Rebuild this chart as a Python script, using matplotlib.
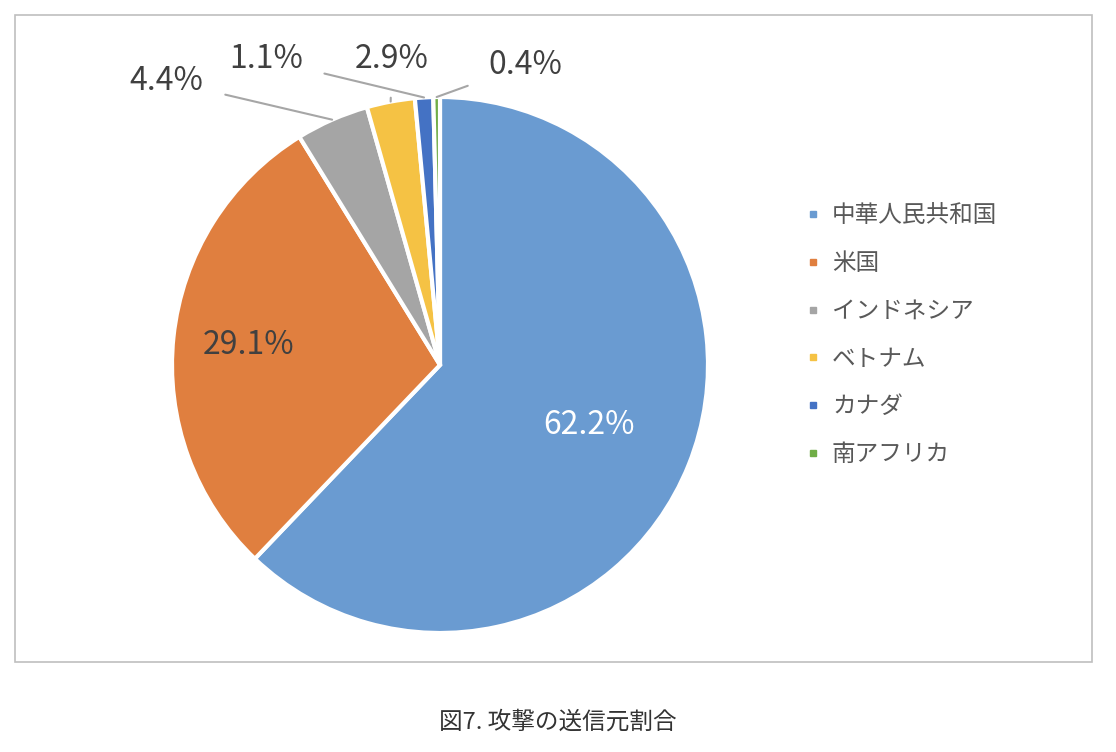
import numpy as np
import matplotlib.pyplot as plt
from matplotlib.patches import Rectangle
from matplotlib.lines import Line2D

plt.rcParams['font.family'] = ['Noto Sans CJK JP', 'DejaVu Sans']

countries = ['中華人民共和国', '米国', 'インドネシア', 'ベトナム', 'カナダ', '南アフリカ']
shares = [62.2, 29.1, 4.4, 2.9, 1.1, 0.4]
colors = ['#6a9bd1', '#e07f3f', '#a5a5a5', '#f5c244', '#4472c4', '#70ad47']
caption = '図7. 攻撃の送信元割合'

W, H = 1116, 752
fig = plt.figure(figsize=(W / 100, H / 100), dpi=100)

# chart frame
fig.patches.append(Rectangle((15 / W, 1 - 662 / H), 1077 / W, 647 / H,
                             transform=fig.transFigure, fill=False,
                             edgecolor='#bfbfbf', linewidth=1.2))

cx, cy, r = 440, 365, 268
ax = fig.add_axes([(cx - r) / W, (H - cy - r) / H, 2 * r / W, 2 * r / H])
wedges, _ = ax.pie(shares, colors=colors, startangle=90, counterclock=False,
                   radius=1, wedgeprops=dict(edgecolor='white', linewidth=3))
ax.set_xlim(-1, 1)
ax.set_ylim(-1, 1)
ax.set_aspect('equal')
ax.axis('off')

# inside labels
inside = {0: ('white', 0.6), 1: ('#404040', 0.72)}
for i, (col, dist) in inside.items():
    w = wedges[i]
    ang = np.deg2rad((w.theta1 + w.theta2) / 2)
    ax.text(dist * np.cos(ang), dist * np.sin(ang), f'{shares[i]:.1f}%',
            ha='center', va='center', fontsize=23, color=col)

# outside labels with leader lines
outside = {2: (-1.02, 1.06), 3: (-0.18, 1.14), 4: (-0.65, 1.14), 5: (0.32, 1.12)}
for i, (tx, ty) in outside.items():
    w = wedges[i]
    ang = np.deg2rad((w.theta1 + w.theta2) / 2)
    ax.annotate(f'{shares[i]:.1f}%', xy=(1.0 * np.cos(ang), 1.0 * np.sin(ang)),
                xytext=(tx, ty), ha='center', va='center', fontsize=23,
                color='#404040', annotation_clip=False,
                arrowprops=dict(arrowstyle='-', color='#a6a6a6', lw=1.5,
                                shrinkA=14, shrinkB=0))

handles = [Line2D([], [], marker='s', linestyle='', markersize=5,
                  markerfacecolor=c, markeredgecolor=c) for c in colors]
fig.legend(handles, countries, loc='upper left',
           bbox_to_anchor=(780 / W, 1 - 183 / H), frameon=False,
           fontsize=17, labelcolor='#595959', labelspacing=1.05,
           handletextpad=0.3, handlelength=1.0)

fig.text(0.5, 1 - 722 / H, caption, ha='center', va='center', fontsize=17,
         color='#333333')

fig.savefig('out.png', dpi=100)
